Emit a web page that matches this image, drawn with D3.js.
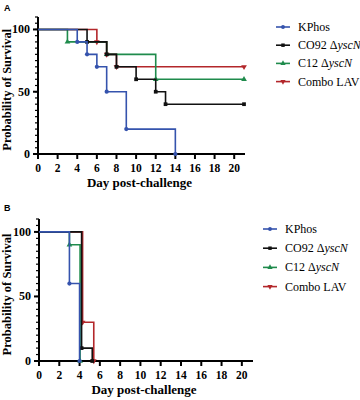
<!DOCTYPE html>
<html>
<head>
<meta charset="utf-8">
<script src="https://cdn.jsdelivr.net/npm/d3@7"></script>
<style>
  body { margin: 0; background: #fff; }
</style>
</head>
<body>
<svg id="chart" width="360" height="400"></svg>
<script>
const SERIF = "'Liberation Serif', 'Times New Roman', 'DejaVu Serif', serif";

// series names in legend order
const seriesNames = ["KPhos", "CO92", "C12", "Combo LAV"];
const seriesColors = ["#3553ad", "#111111", "#1f8b4c", "#b3272b"];
const seriesSymbols = [d3.symbolCircle, d3.symbolSquare, d3.symbolTriangle, "down"];

const xTicks = [0, 2, 4, 6, 8, 10, 12, 14, 16, 18, 20];
const yTicks = [0, 50, 100];

// panel A : day, % surviving
const kphosA_days = [0, 4, 5, 6, 7, 9, 14];
const kphosA_surv = [100, 90, 80, 70, 50, 20, 0];
const co92A_days = [0, 5, 7, 8, 10, 12, 13, 21];
const co92A_surv = [100, 90, 80, 70, 60, 50, 40, 40];
const c12A_days = [0, 3, 7, 12, 21];
const c12A_surv = [100, 90, 80, 60, 60];
const comboA_days = [0, 6, 7, 8, 21];
const comboA_surv = [100, 90, 80, 70, 70];

// panel B
const kphosB_days = [0, 3, 4];
const kphosB_surv = [100, 60, 0];
const co92B_days = [0, 4.2, 5.25];
const co92B_surv = [100, 10, 0];
const c12B_days = [0, 3, 4.05];
const c12B_surv = [100, 90, 0];
const comboB_days = [0, 4.3, 5.4];
const comboB_surv = [100, 30, 0];

const svg = d3.select("#chart");

function zip(days, surv) {
    return days.map((d, i) => ({ day: d, surv: surv[i] }));
}

function marker(i, size) {
    const type = seriesSymbols[i] === "down" ? d3.symbolTriangle : seriesSymbols[i];
    return d3.symbol().type(type).size(size)();
}

function drawPanel(cfg) {
    const g = svg.append("g");
    const x = d3.scaleLinear().domain([0, 21.1]).range([cfg.x0, cfg.x1]);
    const y = d3.scaleLinear().domain([0, 110]).range([cfg.y0, cfg.y1]);

    g.append("text")
        .attr("x", 4).attr("y", cfg.labelY)
        .attr("font-family", "'Liberation Sans', Arial, sans-serif")
        .attr("font-weight", "bold").attr("font-size", 9)
        .text(cfg.label);

    // y axis with minor ticks
    const yAxis = g.append("g").attr("transform", `translate(${cfg.x0},0)`);
    yAxis.append("line")
        .attr("y1", y(110)).attr("y2", y(0))
        .attr("stroke", "#000").attr("stroke-width", 2);
    yAxis.selectAll(".minor")
        .data(d3.range(0, 111, 5))
        .enter().append("line")
        .attr("x1", -3).attr("x2", 0)
        .attr("y1", d => y(d)).attr("y2", d => y(d))
        .attr("stroke", "#000").attr("stroke-width", 1.2);
    yAxis.selectAll(".major")
        .data(yTicks)
        .enter().append("line")
        .attr("x1", -5).attr("x2", 0)
        .attr("y1", d => y(d)).attr("y2", d => y(d))
        .attr("stroke", "#000").attr("stroke-width", 2);
    yAxis.selectAll(".lab")
        .data(yTicks)
        .enter().append("text")
        .attr("x", -8).attr("y", d => y(d) + 4)
        .attr("text-anchor", "end")
        .attr("font-family", SERIF)
        .attr("font-weight", "bold").attr("font-size", 12)
        .text(d => d);

    // x axis
    const xAxis = g.append("g").attr("transform", `translate(0,${cfg.y0})`);
    xAxis.append("line")
        .attr("x1", x(0) - 1).attr("x2", x(21.1))
        .attr("stroke", "#000").attr("stroke-width", 2);
    xAxis.selectAll(".tick")
        .data(xTicks)
        .enter().append("line")
        .attr("x1", d => x(d)).attr("x2", d => x(d))
        .attr("y1", 0).attr("y2", 5)
        .attr("stroke", "#000").attr("stroke-width", 2);
    xAxis.selectAll(".lab")
        .data(xTicks)
        .enter().append("text")
        .attr("x", d => x(d)).attr("y", 18)
        .attr("text-anchor", "middle")
        .attr("font-family", SERIF)
        .attr("font-weight", "bold").attr("font-size", 11.5)
        .text(d => d);

    g.append("text")
        .attr("x", (cfg.x0 + cfg.x1) / 2 - 2).attr("y", cfg.y0 + 33)
        .attr("text-anchor", "middle")
        .attr("font-family", SERIF)
        .attr("font-weight", "bold").attr("font-size", 13)
        .text("Day post-challenge");

    g.append("text")
        .attr("transform", `translate(11,${(cfg.y0 + y(100)) / 2 - 2}) rotate(-90)`)
        .attr("text-anchor", "middle")
        .attr("font-family", SERIF)
        .attr("font-weight", "bold").attr("font-size", 12.5)
        .text("Probability of Survival");

    const line = d3.line()
        .x(d => x(d.day)).y(d => y(d.surv))
        .curve(d3.curveStepAfter);

    // draw back to front: Combo, C12, CO92, KPhos
    [3, 2, 1, 0].forEach(i => {
        const pts = cfg.series[i];
        g.append("path")
            .datum(pts)
            .attr("d", line)
            .attr("fill", "none")
            .attr("stroke", seriesColors[i])
            .attr("stroke-width", 1.6);
        g.selectAll(".m" + i)
            .data(pts.slice(1))
            .enter().append("path")
            .attr("transform", d => `translate(${x(d.day)},${y(d.surv)})` + (seriesSymbols[i] === "down" ? " rotate(180)" : ""))
            .attr("d", marker(i, 14))
            .attr("fill", seriesColors[i]);
    });

    // legend
    const leg = g.append("g");
    seriesNames.forEach((name, i) => {
        const ly = cfg.legY + i * cfg.legStep;
        leg.append("line")
            .attr("x1", cfg.legX).attr("x2", cfg.legX + 14)
            .attr("y1", ly).attr("y2", ly)
            .attr("stroke", seriesColors[i]).attr("stroke-width", 1.6);
        leg.append("path")
            .attr("transform", `translate(${cfg.legX + 7},${ly})` + (seriesSymbols[i] === "down" ? " rotate(180)" : ""))
            .attr("d", marker(i, 12))
            .attr("fill", seriesColors[i]);
        const t = leg.append("text")
            .attr("x", cfg.legX + 22).attr("y", ly + 4)
            .attr("font-family", SERIF)
            .attr("font-size", 12);
        if (name === "CO92" || name === "C12") {
            t.append("tspan").text(name + " \u0394");
            t.append("tspan").attr("font-style", "italic").text("yscN");
        } else {
            t.text(name);
        }
    });
}

drawPanel({
    label: "A", labelY: 11,
    x0: 38, x1: 245, y0: 154, y1: 17,
    legX: 276, legY: 27, legStep: 18.2,
    series: [
        zip(kphosA_days, kphosA_surv),
        zip(co92A_days, co92A_surv),
        zip(c12A_days, c12A_surv),
        zip(comboA_days, comboA_surv)
    ]
});

drawPanel({
    label: "B", labelY: 211,
    x0: 39, x1: 253, y0: 361, y1: 219,
    legX: 263, legY: 229, legStep: 19.2,
    series: [
        zip(kphosB_days, kphosB_surv),
        zip(co92B_days, co92B_surv),
        zip(c12B_days, c12B_surv),
        zip(comboB_days, comboB_surv)
    ]
});
</script>
</body>
</html>
